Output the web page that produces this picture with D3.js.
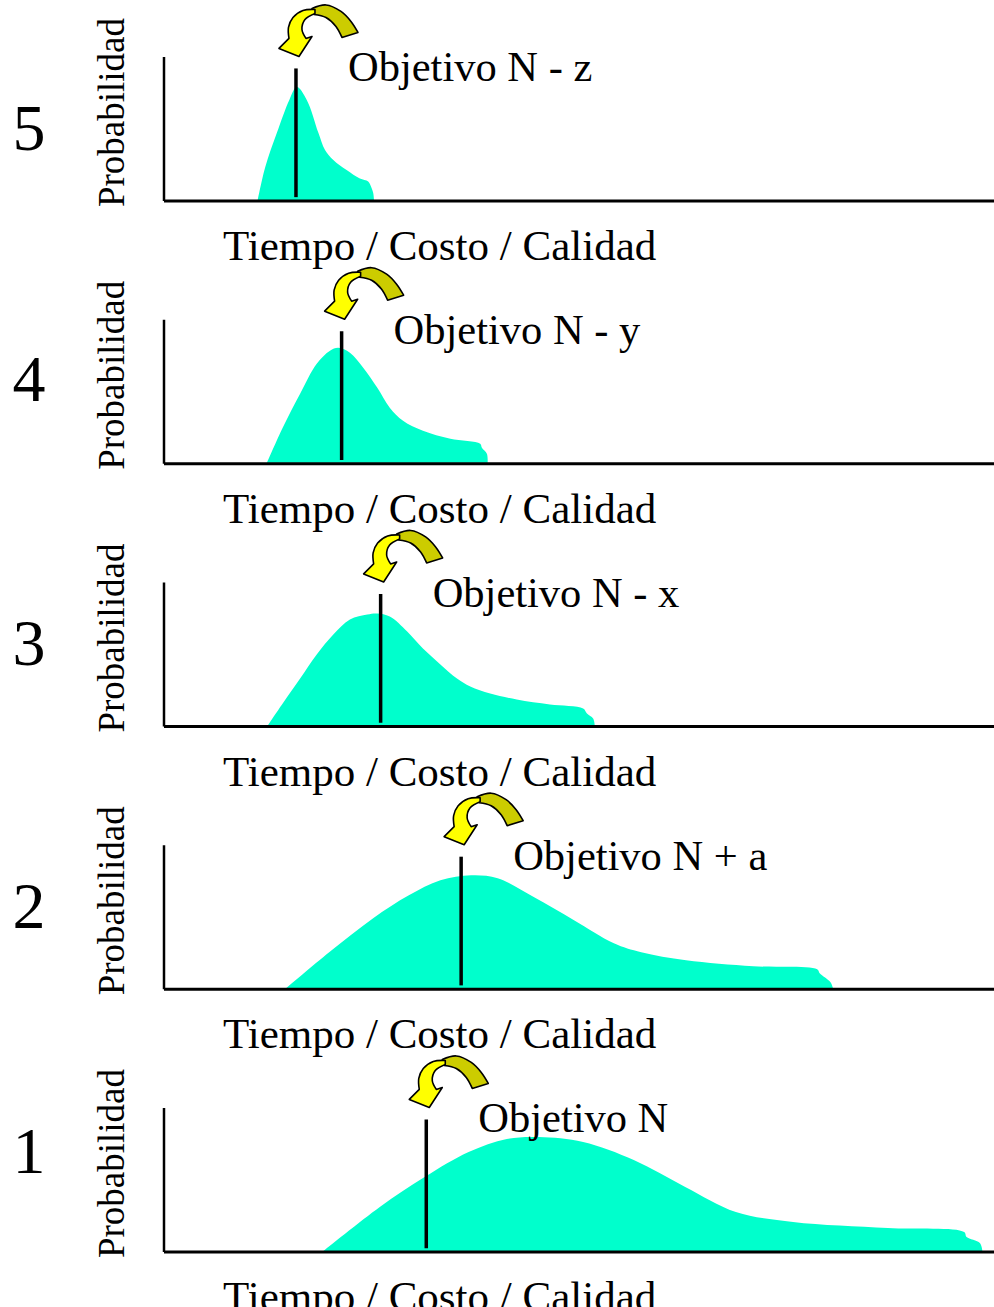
<!DOCTYPE html>
<html><head><meta charset="utf-8">
<script src="https://cdn.jsdelivr.net/npm/d3@7"></script>
<style>body{margin:0;background:#fff}svg{display:block}</style>
</head><body>
<svg id="c" width="994" height="1307"></svg>
<script>
// ---- data (top panel to bottom panel) ----
const panelNumbers = ["5", "4", "3", "2", "1"];
const targetLabels = ["Objetivo N - z", "Objetivo N - y", "Objetivo N - x", "Objetivo N + a", "Objetivo N"];
const targetValues = [15.9, 21.4, 26.1, 35.8, 31.6];
const xAxisTitle = "Tiempo / Costo / Calidad";
const yAxisTitle = "Probabilidad";

const curve5 = [[11.3,0],[12.2,0.23],[13.6,0.47],[15.1,0.70],[16.0,0.79],[17.2,0.70],[18.6,0.47],[19.4,0.35],[20.4,0.28],[22.0,0.21],[23.6,0.15],[24.6,0.13],[24.9,0.10],[25.2,0.05],[25.3,0]];
const curve4 = [[12.4,0],[14.3,0.245],[16.4,0.483],[18.4,0.692],[20.0,0.783],[21.0,0.804],[22.4,0.769],[24.0,0.664],[25.7,0.524],[27.2,0.385],[28.8,0.294],[31.2,0.224],[34.5,0.168],[38.1,0.133],[38.3,0.105],[38.9,0.063],[39.0,0]];
const curve3 = [[12.5,0],[14.3,0.154],[16.4,0.329],[18.4,0.497],[20.4,0.636],[22.4,0.741],[24.5,0.776],[25.7,0.783],[27.2,0.762],[29.3,0.657],[31.2,0.538],[33.3,0.427],[35.3,0.329],[36.9,0.273],[39.3,0.224],[42.5,0.182],[46.5,0.147],[50.5,0.119],[50.96,0.084],[51.7,0.049],[51.9,0]];
const curve2 = [[14.7,0],[19.9,0.252],[25.2,0.490],[29.5,0.650],[33.3,0.755],[37.0,0.790],[40.2,0.769],[44.6,0.636],[49.4,0.476],[54.2,0.315],[57.5,0.252],[62.9,0.196],[71.0,0.154],[78.7,0.133],[79.0,0.105],[80.3,0.042],[80.6,0]];
const curve1 = [[19.2,0],[26.0,0.308],[31.4,0.517],[36.7,0.692],[41.3,0.783],[45.2,0.797],[50.5,0.762],[56.6,0.636],[62.8,0.448],[68.9,0.273],[75.8,0.203],[87.2,0.161],[96.4,0.133],[96.7,0.098],[98.3,0.056],[98.6,0]];
const curves = [curve5, curve4, curve3, curve2, curve1];

// ---- layout ----
const W = 994, H = 1307;
const firstBase = 200, panelStep = 262.75, plotH = 143;
const axisLeft = 164, axisRight = 994;
const numberRise = [50, 62, 61, 60, 78];
const serif = "'Liberation Serif','Times New Roman',serif";

const svg = d3.select("#c");
const x = d3.scaleLinear().domain([0, 100]).range([axisLeft, axisRight]);

// curved arrow shape (local coords relative to the top of the target line)
const smooth = d3.line().curve(d3.curveCatmullRom);
function join(parts) {
  return parts.map((p, i) => {
    let s = p.length > 1 ? smooth(p) : "M" + p[0][0] + "," + p[0][1];
    return i === 0 ? s : "L" + s.slice(1);
  }).join("") + "Z";
}
const olivePath = join([
  [[16,-60],[30,-63.5],[45,-57],[55,-47],[62,-36]],
  [[46,-31]],
  [[46,-31],[40,-42],[30,-51],[18,-54]]
]);
const yellowPath = join([
  [[19,-59],[7,-58],[-3,-51],[-7.5,-41],[-7,-30]],
  [[-17,-20]],
  [[3,-12]],
  [[16,-32]],
  [[10,-30],[6,-39],[9,-49],[19,-55]]
]);

curves.forEach((data, i) => {
  const base = firstBase + i * panelStep;
  const y = d3.scaleLinear().domain([0, 1]).range([base, base - plotH]);
  const g = svg.append("g");

  // distribution area
  g.append("path")
    .datum(data)
    .attr("fill", "#00FFCC")
    .attr("d", d3.area().x(d => x(d[0])).y0(y(0)).y1(d => y(d[1])).curve(d3.curveCatmullRom.alpha(0.5)));

  // axes
  g.append("line").attr("x1", axisLeft).attr("x2", axisLeft)
    .attr("y1", y(1)).attr("y2", base + 1)
    .attr("stroke", "#000").attr("stroke-width", 2.5);
  g.append("line").attr("x1", axisLeft).attr("x2", axisRight)
    .attr("y1", base + 1).attr("y2", base + 1)
    .attr("stroke", "#000").attr("stroke-width", 3);

  // target line
  const tx = x(targetValues[i]);
  const topY = y(0.92);
  g.append("line").attr("x1", tx).attr("x2", tx)
    .attr("y1", topY).attr("y2", y(0.02))
    .attr("stroke", "#000").attr("stroke-width", 3.5);

  // curved arrow
  const a = g.append("g").attr("transform", `translate(${tx},${topY})`);
  a.append("path").attr("d", olivePath).attr("fill", "#CCCC00")
    .attr("stroke", "#000").attr("stroke-width", 1.6).attr("stroke-linejoin", "round");
  a.append("path").attr("d", yellowPath).attr("fill", "#FFFF00")
    .attr("stroke", "#000").attr("stroke-width", 1.6).attr("stroke-linejoin", "round");

  // target label
  g.append("text").attr("x", tx + 52).attr("y", topY + 13)
    .attr("font-family", serif).attr("font-size", 42.5).attr("fill", "#000")
    .text(targetLabels[i]);

  // panel number
  g.append("text").attr("x", 29).attr("y", base - numberRise[i])
    .attr("text-anchor", "middle")
    .attr("font-family", serif).attr("font-size", 66).attr("fill", "#000")
    .text(panelNumbers[i]);

  // y axis title
  g.append("text")
    .attr("transform", `translate(124,${base - 87.5}) rotate(-90)`)
    .attr("text-anchor", "middle")
    .attr("font-family", serif).attr("font-size", 37).attr("fill", "#000")
    .text(yAxisTitle);

  // x axis title
  g.append("text").attr("x", 223).attr("y", base + 60)
    .attr("font-family", serif).attr("font-size", 43).attr("fill", "#000")
    .text(xAxisTitle);
});
</script>
</body></html>
